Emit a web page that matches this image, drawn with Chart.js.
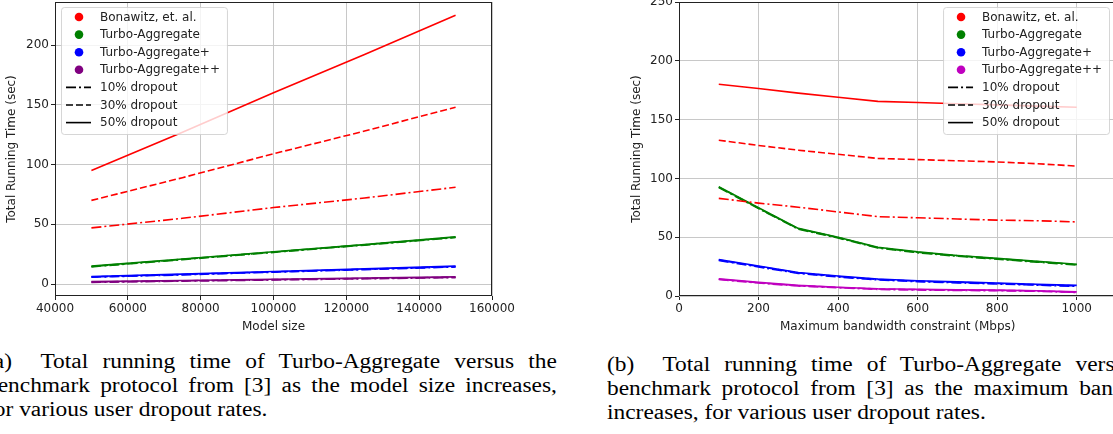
<!DOCTYPE html>
<html>
<head>
<meta charset="utf-8">
<script src="https://cdn.jsdelivr.net/npm/chart.js@4.4.0/dist/chart.umd.min.js"></script>
<style>
  html, body { margin: 0; padding: 0; background: #fff; width: 1113px; height: 434px; overflow: hidden; position: relative; }
  canvas { position: absolute; top: 0; }
  #chartA { left: 0; }
  #chartB { left: 625px; }
  .cap { position: absolute; width: 488px; font-family: "Liberation Serif", "Times New Roman", serif; font-size: 20px; line-height: 24px; color: #000; transform: scaleX(1.17); transform-origin: 0 0; }
  .cap div { white-space: nowrap; }
  .cap .j { white-space: normal; text-align: justify; text-align-last: justify; }
</style>
</head>
<body>
<canvas id="chartA" width="530" height="340"></canvas>
<canvas id="chartB" width="530" height="340"></canvas>

<div class="cap" style="left:-14px; top:349px;">
  <div class="j">(a) &nbsp;Total running time of Turbo-Aggregate versus the</div>
  <div class="j">benchmark protocol from [3] as the model size increases,</div>
  <div>for various user dropout rates.</div>
</div>
<div class="cap" style="left:607px; top:352px;">
  <div class="j">(b) &nbsp;Total running time of Turbo-Aggregate versus the</div>
  <div class="j">benchmark protocol from [3] as the maximum bandwidth</div>
  <div>increases, for various user dropout rates.</div>
</div>

<script>
// legend text
const protocolNames = ["Bonawitz, et. al.", "Turbo-Aggregate", "Turbo-Aggregate+", "Turbo-Aggregate++"];
const dropoutNames = ["10% dropout", "30% dropout", "50% dropout"];

// (a) running time vs model size
const modelSizes = [50000, 75000, 100000, 125000, 150000];
const bonawitzModel10 = [47, 55, 64, 72, 81];
const bonawitzModel30 = [70, 89, 109, 128, 148];
const bonawitzModel50 = [95, 127, 160, 192, 225];
const turboModel10 = [14.4, 20.4, 26.5, 32.6, 38.9];
const turboModel30 = [14.7, 20.7, 26.8, 32.9, 39.2];
const turboModel50 = [15, 21, 27, 33, 39.5];
const turboPlusModel10 = [5.7, 7.7, 9.9, 12.1, 14.3];
const turboPlusModel30 = [6, 8, 10.2, 12.4, 14.6];
const turboPlusModel50 = [6.3, 8.3, 10.5, 12.7, 15];
const turboPPModel10 = [1.4, 2.4, 3.4, 4.4, 5.4];
const turboPPModel30 = [1.7, 2.7, 3.7, 4.7, 5.7];
const turboPPModel50 = [2, 3, 4, 5, 6];
const modelTicks = [40000, 60000, 80000, 100000, 120000, 140000, 160000];
const timeTicksA = [0, 50, 100, 150, 200];

// (b) running time vs maximum bandwidth
const bandwidths = [100, 200, 300, 400, 500, 600, 700, 800, 900, 1000];
const bonawitzBw10 = [83, 79, 75.5, 71.5, 67.5, 66.5, 65.5, 64.5, 64, 63];
const bonawitzBw30 = [132.5, 128, 124, 120.5, 117, 116, 115, 114, 112.5, 110.5];
const bonawitzBw50 = [180, 176.5, 172.5, 169, 165.5, 164.5, 163.5, 162.5, 161.5, 160.5];
const turboBw10 = [92.2, 74.3, 56.8, 49.3, 40.8, 36.8, 33.8, 31.3, 28.8, 26.4];
const turboBw30 = [92.6, 74.7, 57.2, 49.7, 41.2, 37.2, 34.2, 31.7, 29.2, 26.7];
const turboBw50 = [93, 75, 57.5, 50, 41.5, 37.5, 34.5, 32, 29.5, 27];
const turboPlusBw10 = [30.2, 24.7, 19.2, 16.2, 13.7, 12.2, 11.2, 10.2, 9.2, 8.2];
const turboPlusBw30 = [30.6, 25.1, 19.6, 16.6, 14.1, 12.6, 11.6, 10.6, 9.6, 8.6];
const turboPlusBw50 = [31, 25.5, 20, 17, 14.5, 13, 12, 11, 10, 9];
const turboPPBw10 = [14, 11, 8.5, 7, 5.6, 5.1, 4.7, 4.5, 4, 3];
const turboPPBw30 = [14.3, 11.3, 8.8, 7.3, 5.9, 5.4, 5, 4.8, 4.3, 3.3];
const turboPPBw50 = [14.6, 11.6, 9, 7.5, 6.2, 5.7, 5.3, 5, 4.5, 3.5];
const bwTicks = [0, 200, 400, 600, 800, 1000];
const timeTicksB = [0, 50, 100, 150, 200, 250];

const DASHES = [[10, 3, 2, 3], [7, 3], []];
const FONT = '"DejaVu Sans", sans-serif';
Chart.defaults.font.family = FONT;
Chart.defaults.font.size = 12;
Chart.defaults.color = '#222';

function lineSets(xs, groups, colors) {
  const sets = [];
  groups.forEach((g, gi) => {
    g.forEach((ys, di) => {
      sets.push({
        data: xs.map((x, i) => ({ x: x, y: ys[i] })),
        borderColor: colors[gi],
        borderWidth: 1.6,
        borderDash: DASHES[di],
        pointRadius: 0,
        fill: false,
        tension: 0
      });
    });
  });
  return sets;
}

const framePlugin = {
  id: 'frame',
  afterDraw(chart) {
    const { ctx, chartArea: a } = chart;
    ctx.save();
    ctx.strokeStyle = '#222';
    ctx.lineWidth = 1;
    ctx.strokeRect(Math.round(a.left) + 0.5, Math.round(a.top) + 0.5,
      Math.round(a.right - a.left) - 1, Math.round(a.bottom - a.top) - 1);
    ctx.restore();
  }
};

const boxLegend = {
  id: 'boxLegend',
  afterDatasetsDraw(chart, args, opts) {
    const { ctx, chartArea: a } = chart;
    ctx.save();
    ctx.font = '12px ' + FONT;
    const rowH = 17.6;
    const textW = Math.max(...protocolNames.concat(dropoutNames).map(t => ctx.measureText(t).width));
    const w = 39 + textW + 7;
    const h = 127;
    const x = opts.side === 'left' ? a.left + 6 : a.right - 7.5 - w;
    const y = a.top + 5;
    ctx.beginPath();
    ctx.roundRect(x + 0.5, y + 0.5, w, h, 3);
    ctx.fillStyle = 'rgba(255,255,255,0.8)';
    ctx.fill();
    ctx.strokeStyle = 'rgba(204,204,204,0.8)';
    ctx.lineWidth = 1;
    ctx.stroke();
    ctx.textBaseline = 'middle';
    ctx.textAlign = 'left';
    protocolNames.forEach((name, i) => {
      const cy = y + 10 + i * rowH;
      ctx.beginPath();
      ctx.arc(x + 18, cy, 4.3, 0, Math.PI * 2);
      ctx.fillStyle = opts.colors[i];
      ctx.fill();
      ctx.fillStyle = '#222';
      ctx.fillText(name, x + 39, cy + 0.5);
    });
    dropoutNames.forEach((name, i) => {
      const cy = y + 10 + (i + 4) * rowH;
      ctx.beginPath();
      ctx.setLineDash(DASHES[i]);
      ctx.moveTo(x + 5, cy);
      ctx.lineTo(x + 30, cy);
      ctx.strokeStyle = '#000';
      ctx.lineWidth = 1.6;
      ctx.stroke();
      ctx.setLineDash([]);
      ctx.fillStyle = '#222';
      ctx.fillText(name, x + 39, cy + 0.5);
    });
    ctx.restore();
  }
};

function axis(ticks, min, max, title, yAxisWidth, horizontal) {
  return {
    type: 'linear',
    min: min,
    max: max,
    afterBuildTicks: s => { s.ticks = ticks.map(v => ({ value: v })); },
    afterFit: s => {
      if (horizontal) {
        s.height = 44;
        s.paddingLeft = 0; s.paddingRight = 0;
      } else {
        s.width = yAxisWidth;
        s.paddingTop = 0; s.paddingBottom = 0;
      }
    },
    ticks: { callback: v => String(v), padding: horizontal ? 1.5 : 2, maxRotation: 0, autoSkip: false },
    grid: { color: '#c8c8c8', lineWidth: 1, tickLength: 4, tickColor: '#222' },
    border: { display: false },
    title: { display: true, text: title, padding: horizontal ? { top: 0, bottom: 6 } : { top: 5, bottom: 0 } }
  };
}

function makeChart(id, xs, groups, colors, xTicks, xMin, xMax, yTicks, yMin, yMax, xTitle, yWidth, legendSide, padRight) {
  new Chart(document.getElementById(id), {
    type: 'line',
    data: { datasets: lineSets(xs, groups, colors) },
    options: {
      responsive: false,
      animation: false,
      layout: { padding: { top: 2, right: padRight, bottom: 0, left: 0 } },
      plugins: {
        legend: { display: false },
        tooltip: { enabled: false },
        boxLegend: { side: legendSide, colors: colors }
      },
      scales: {
        x: axis(xTicks, xMin, xMax, xTitle, 0, true),
        y: axis(yTicks, yMin, yMax, 'Total Running Time (sec)', yWidth, false)
      }
    },
    plugins: [framePlugin, boxLegend]
  });
}

makeChart('chartA', modelSizes,
  [[bonawitzModel10, bonawitzModel30, bonawitzModel50],
   [turboModel10, turboModel30, turboModel50],
   [turboPlusModel10, turboPlusModel30, turboPlusModel50],
   [turboPPModel10, turboPPModel30, turboPPModel50]],
  ['#ff0000', '#008000', '#0000ff', '#800080'],
  modelTicks, 40000, 160000, timeTicksA, -10, 236, 'Model size', 55, 'left', 38);

makeChart('chartB', bandwidths,
  [[bonawitzBw10, bonawitzBw30, bonawitzBw50],
   [turboBw10, turboBw30, turboBw50],
   [turboPlusBw10, turboPlusBw30, turboPlusBw50],
   [turboPPBw10, turboPPBw30, turboPPBw50]],
  ['#ff0000', '#008000', '#0000ff', '#bf00bf'],
  bwTicks, 0, 1100, timeTicksB, 0, 250, 'Maximum bandwidth constraint (Mbps)', 54, 'right', 38.5);
</script>
</body>
</html>
